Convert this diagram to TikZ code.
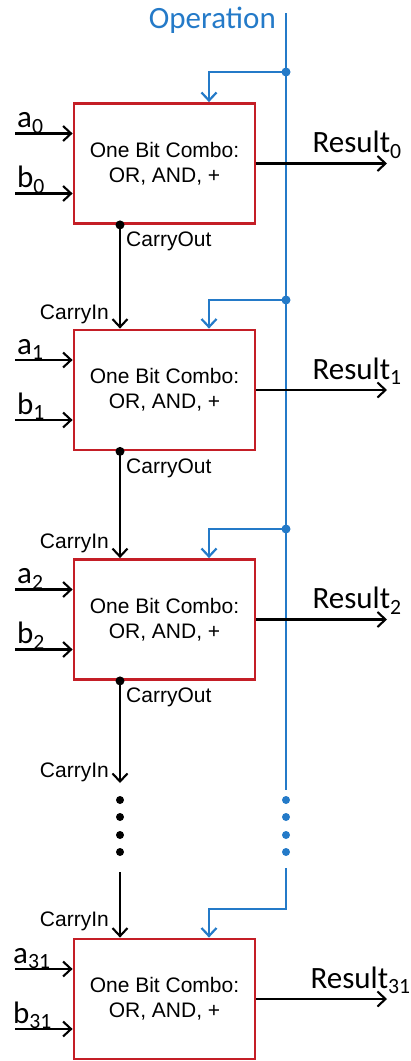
\documentclass[tikz,border=0pt]{standalone}
\usepackage{fontspec}
\setmainfont{Liberation Sans}
\newfontfamily\calfont{Carlito}
\usetikzlibrary{arrows.meta,positioning,calc}
\definecolor{boxred}{RGB}{196,30,38}
\definecolor{opblue}{RGB}{36,122,200}

\begin{document}
\begin{tikzpicture}[x=1pt,y=-1pt,
  alu/.style={draw=boxred,line width=2.8pt,minimum width=181pt,minimum height=120pt,
    inner sep=0pt,align=center,font=\fontsize{21}{25}\selectfont},
  wire/.style={line width=2.1pt,-{Straight Barb[length=8pt,width=15pt,line width=2.1pt]}},
  opline/.style={opblue,line width=2.6pt},
  opwire/.style={opblue,line width=2.2pt,-{Straight Barb[length=8pt,width=15pt,line width=2.2pt]}},
  lbl/.style={inner sep=0pt,font=\fontsize{21}{24}\selectfont},
  sig/.style={inner sep=0pt,font=\calfont\fontsize{31}{34}\selectfont}]
\useasboundingbox (0,0) rectangle (411,1061);

% the four one-bit blocks
\node[alu] (bit0) at (164.5,163.5) {One Bit Combo:\\OR, AND, +};
\node[alu] (bit1) at (164.5,390) {One Bit Combo:\\OR, AND, +};
\node[alu] (bit2) at (164.5,619.5) {One Bit Combo:\\OR, AND, +};
\node[alu] (bit31) at (164.5,999) {One Bit Combo:\\OR, AND, +};

% operation bus
\node[sig,text=opblue,anchor=base east] (oplbl) at (276,28) {Operation};
\coordinate (optop) at (286,13);
\coordinate (opend) at (286,790);
\coordinate (opresume) at (286,868);
\coordinate (opturn) at (286,909);
\draw[opline] (optop) -- (opend);
\foreach \y in {800,817,835,852} \fill[opblue] (286,\y) circle (4);
\coordinate (j0) at (286,72);
\coordinate (j1) at (286,300);
\coordinate (j2) at (286,529);
\fill[opblue] (j0) circle (4.5);
\fill[opblue] (j1) circle (4.5);
\fill[opblue] (j2) circle (4.5);
\draw[opwire] (j0) -| ([xshift=44.5pt]bit0.north);
\draw[opwire] (j1) -| ([xshift=44.5pt]bit1.north);
\draw[opwire] (j2) -| ([xshift=44.5pt]bit2.north);
\draw[opwire] (opresume) -- (opturn) -| ([xshift=44.5pt]bit31.north);

% inputs a, b
\coordinate (a0) at (15,133.5);
\coordinate (b0) at (15,193.5);
\coordinate (a1) at (15,360);
\coordinate (b1) at (15,420);
\coordinate (a2) at (15,589.5);
\coordinate (b2) at (15,649.5);
\coordinate (a31) at (15,969);
\coordinate (b31) at (15,1029);
\draw[wire] (a0) -- (a0 -| bit0.west);
\draw[wire] (b0) -- (b0 -| bit0.west);
\draw[wire] (a1) -- (a1 -| bit1.west);
\draw[wire] (b1) -- (b1 -| bit1.west);
\draw[wire] (a2) -- (a2 -| bit2.west);
\draw[wire] (b2) -- (b2 -| bit2.west);
\draw[wire] (a31) -- (a31 -| bit31.west);
\draw[wire] (b31) -- (b31 -| bit31.west);
\node[sig,anchor=base west] at ($(a0)+(2,-6)$) {a\textsubscript{0}};
\node[sig,anchor=base west] at ($(b0)+(2,-6)$) {b\textsubscript{0}};
\node[sig,anchor=base west] at ($(a1)+(2,-6)$) {a\textsubscript{1}};
\node[sig,anchor=base west] at ($(b1)+(2,-6)$) {b\textsubscript{1}};
\node[sig,anchor=base west] at ($(a2)+(2,-6)$) {a\textsubscript{2}};
\node[sig,anchor=base west] at ($(b2)+(2,-6)$) {b\textsubscript{2}};
\node[sig,anchor=base west] at ($(a31)+(-2,-6)$) {a\textsubscript{31}};
\node[sig,anchor=base west] at ($(b31)+(-2,-6)$) {b\textsubscript{31}};

% results
\coordinate (r0) at (387,163.5);
\coordinate (r1) at (387,390);
\coordinate (r2) at (387,619.5);
\coordinate (r31) at (387,999);
\draw[wire] (bit0.east) -- (r0);
\draw[wire] (bit1.east) -- (r1);
\draw[wire] (bit2.east) -- (r2);
\draw[wire] (bit31.east) -- (r31);
\node[sig,anchor=base west] at ($(bit0.east)+(56,-11)$) {Result\textsubscript{0}};
\node[sig,anchor=base west] at ($(bit1.east)+(56,-11)$) {Result\textsubscript{1}};
\node[sig,anchor=base west] at ($(bit2.east)+(56,-11)$) {Result\textsubscript{2}};
\node[sig,anchor=base west] at ($(bit31.east)+(54,-11)$) {Result\textsubscript{31}};

% carry chain
\coordinate (co0) at ([xshift=-44.5pt]bit0.south);
\coordinate (co1) at ([xshift=-44.5pt]bit1.south);
\coordinate (co2) at ([xshift=-44.5pt]bit2.south);
\coordinate (ci3) at (120,783);
\coordinate (cresume) at (120,872);
\fill (co0) circle (4.5);
\fill (co1) circle (4.5);
\fill (co2) circle (4.5);
\draw[wire] (co0) -- (co0 |- bit1.north);
\draw[wire] (co1) -- (co1 |- bit2.north);
\draw[wire] (co2) -- (ci3);
\foreach \y in {800,817,835,852} \fill (120,\y) circle (4);
\draw[wire] (cresume) -- (cresume |- bit31.north);
\node[lbl,anchor=base west] at ($(co0)+(6,22)$) {CarryOut};
\node[lbl,anchor=base west] at ($(co1)+(6,22)$) {CarryOut};
\node[lbl,anchor=base west] at ($(co2)+(6,22)$) {CarryOut};
\node[lbl,anchor=base east] at ($(co0 |- bit1.north)+(-11,-9)$) {CarryIn};
\node[lbl,anchor=base east] at ($(co1 |- bit2.north)+(-11,-10)$) {CarryIn};
\node[lbl,anchor=base east] at ($(ci3)+(-11,-6)$) {CarryIn};
\node[lbl,anchor=base east] at ($(cresume |- bit31.north)+(-11,-11)$) {CarryIn};
\end{tikzpicture}
\end{document}
